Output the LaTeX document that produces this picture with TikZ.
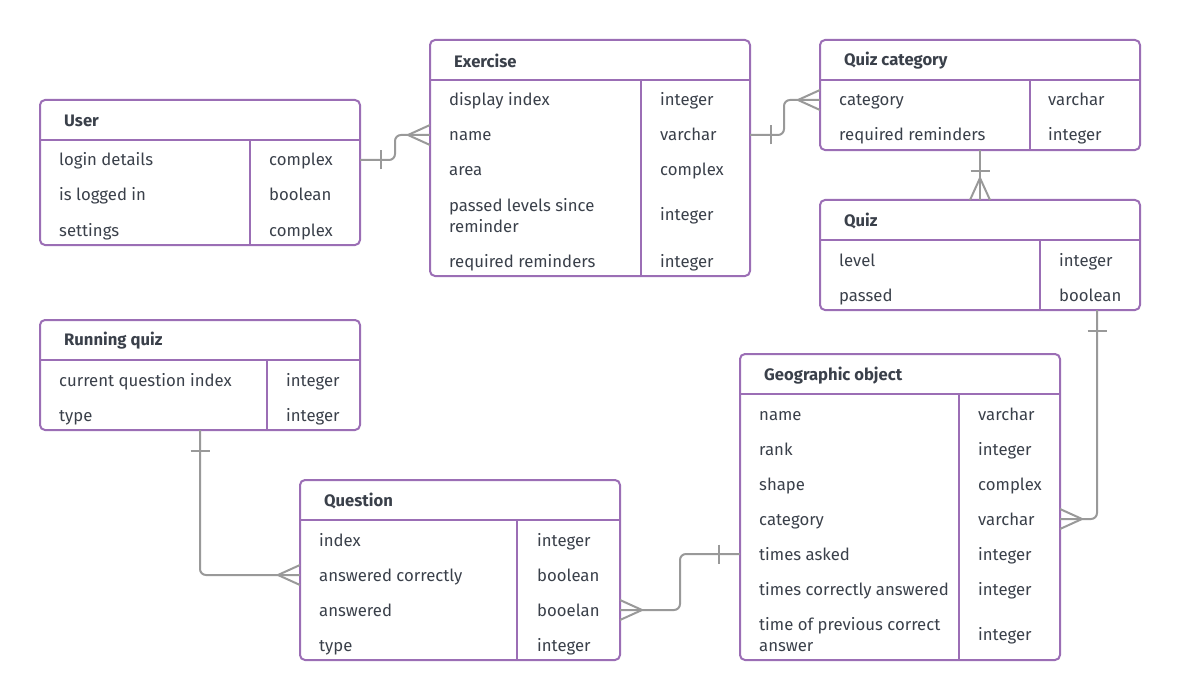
\documentclass[tikz,border=0pt]{standalone}
\usepackage{fontspec}
\setmainfont{Fira Sans}
\usetikzlibrary{decorations.markings}
\definecolor{erpurple}{RGB}{155,110,181}
\definecolor{ertext}{RGB}{58,64,74}
\definecolor{ergrey}{RGB}{153,153,153}
\tikzstyle{tbl} = [draw=erpurple, line width=2bp, rounded corners=5bp, anchor=north west, inner sep=0pt, outer sep=0pt]
\tikzstyle{sep} = [draw=erpurple, line width=2bp]
\tikzstyle{head} = [anchor=west, inner sep=0pt, text=ertext, font=\bfseries\fontsize{16.7}{20}\selectfont]
\tikzstyle{attr} = [anchor=west, inner sep=0pt, text=ertext, font=\fontsize{16.8}{20}\selectfont, text height=12bp, text depth=0bp]
\tikzstyle{attrtwo} = [anchor=west, inner sep=0pt, text=ertext, font=\fontsize{16.8}{21}\selectfont, align=left]
\tikzstyle{rel} = [draw=ergrey, line width=2bp, rounded corners=6bp]
\tikzstyle{one} = [postaction={decorate, decoration={markings, mark=at position 21bp with {\draw[ergrey, line width=2bp, sharp corners] (0,-9.5bp) -- (0,9.5bp);}}}]
\tikzstyle{many} = [postaction={decorate, decoration={markings, mark=at position 1 with {\draw[ergrey, line width=2bp, sharp corners] (-22bp,0) -- (0,10bp) (-22bp,0) -- (0,-10bp);}}}]

\begin{document}
\begin{tikzpicture}[x=1bp,y=-1bp]
\useasboundingbox (0,0) rectangle (1180,700);

% User
\node[tbl, minimum width=320bp, minimum height=145bp] (user) at (40,100) {};
\draw[sep] (user.west |- 0,140) -- (user.east |- 0,140);
\draw[sep] (250,140) -- (user.south -| 250,0);
\node[head] (user-h) at (64,121) {User};
\foreach \n/\t [count=\i] in {login details/complex, is logged in/boolean, settings/complex} {
    \node[attr] (user-n\i) at (59,125+35*\i) {\n};
    \node[attr] (user-t\i) at (269,125+35*\i) {\t};
}

% Exercise
\node[tbl, minimum width=320bp, minimum height=236bp] (ex) at (430,40) {};
\draw[sep] (ex.west |- 0,80) -- (ex.east |- 0,80);
\draw[sep] (641,80) -- (ex.south -| 641,0);
\node[head] (ex-h) at (454,61) {Exercise};
\foreach \n/\t [count=\i] in {display index/integer, name/varchar, area/complex} {
    \node[attr] (ex-n\i) at (449,65+35*\i) {\n};
    \node[attr] (ex-t\i) at (660,65+35*\i) {\t};
}
\node[attrtwo] (ex-n4) at (449,216) {passed levels since\\reminder};
\node[attr] (ex-t4) at (660,215) {integer};
\node[attr] (ex-n5) at (449,261) {required reminders};
\node[attr] (ex-t5) at (660,261) {integer};

% Quiz category
\node[tbl, minimum width=320bp, minimum height=110bp] (qcat) at (820,40) {};
\draw[sep] (qcat.west |- 0,80) -- (qcat.east |- 0,80);
\draw[sep] (1030,80) -- (qcat.south -| 1030,0);
\node[head] (qcat-h) at (844,61) {Quiz category};
\foreach \n/\t [count=\i] in {category/varchar, required reminders/integer} {
    \node[attr] (qcat-n\i) at (839,65+35*\i) {\n};
    \node[attr] (qcat-t\i) at (1048,65+35*\i) {\t};
}

% Quiz
\node[tbl, minimum width=320bp, minimum height=110bp] (quiz) at (820,200) {};
\draw[sep] (quiz.west |- 0,240) -- (quiz.east |- 0,240);
\draw[sep] (1040,240) -- (quiz.south -| 1040,0);
\node[head] (quiz-h) at (844,221) {Quiz};
\foreach \n/\t [count=\i] in {level/integer, passed/boolean} {
    \node[attr] (quiz-n\i) at (839,225+35*\i) {\n};
    \node[attr] (quiz-t\i) at (1059,225+35*\i) {\t};
}

% Running quiz
\node[tbl, minimum width=320bp, minimum height=110bp] (run) at (40,320) {};
\draw[sep] (run.west |- 0,360) -- (run.east |- 0,360);
\draw[sep] (267,360) -- (run.south -| 267,0);
\node[head] (run-h) at (64,341) {Running quiz};
\foreach \n/\t [count=\i] in {current question index/integer, type/integer} {
    \node[attr] (run-n\i) at (59,345+35*\i) {\n};
    \node[attr] (run-t\i) at (286,345+35*\i) {\t};
}

% Question
\node[tbl, minimum width=320bp, minimum height=180bp] (qst) at (300,480) {};
\draw[sep] (qst.west |- 0,520) -- (qst.east |- 0,520);
\draw[sep] (517,520) -- (qst.south -| 517,0);
\node[head] (qst-h) at (324,501) {Question};
\foreach \n/\t [count=\i] in {index/integer, answered correctly/boolean, answered/booelan, type/integer} {
    \node[attr] (qst-n\i) at (319,505+35*\i) {\n};
    \node[attr] (qst-t\i) at (537,505+35*\i) {\t};
}

% Geographic object
\node[tbl, minimum width=320bp, minimum height=306bp] (geo) at (740,354) {};
\draw[sep] (geo.west |- 0,394) -- (geo.east |- 0,394);
\draw[sep] (959,394) -- (geo.south -| 959,0);
\node[head] (geo-h) at (764,376) {Geographic object};
\foreach \n/\t [count=\i] in {name/varchar, rank/integer, shape/complex, category/varchar, times asked/integer, times correctly answered/integer} {
    \node[attr] (geo-n\i) at (759,379+35*\i) {\n};
    \node[attr] (geo-t\i) at (978,379+35*\i) {\t};
}
\node[attrtwo] (geo-n7) at (759,635) {time of previous correct\\answer};
\node[attr] (geo-t7) at (978,634) {integer};

% relations
\draw[rel, one, many] (user.east |- user-n1) -- ++(35,0) |- (ex.west |- ex-n2);
\draw[rel, one, many] (ex.east |- ex-n2) -- ++(34,0) |- (qcat.west |- qcat-n1);
\draw[rel, one, many] (qcat.south) -- (quiz.north);
\draw[rel, one, many] ([xshift=-43bp]quiz.south east) |- (geo.east |- geo-n4);
\draw[rel, one, many] (run.south) |- (qst.west |- qst-n2);
\draw[rel, one, many] (geo.west |- geo-n5) -- ++(-60,0) |- (qst.east |- qst-n3);
\end{tikzpicture}
\end{document}
